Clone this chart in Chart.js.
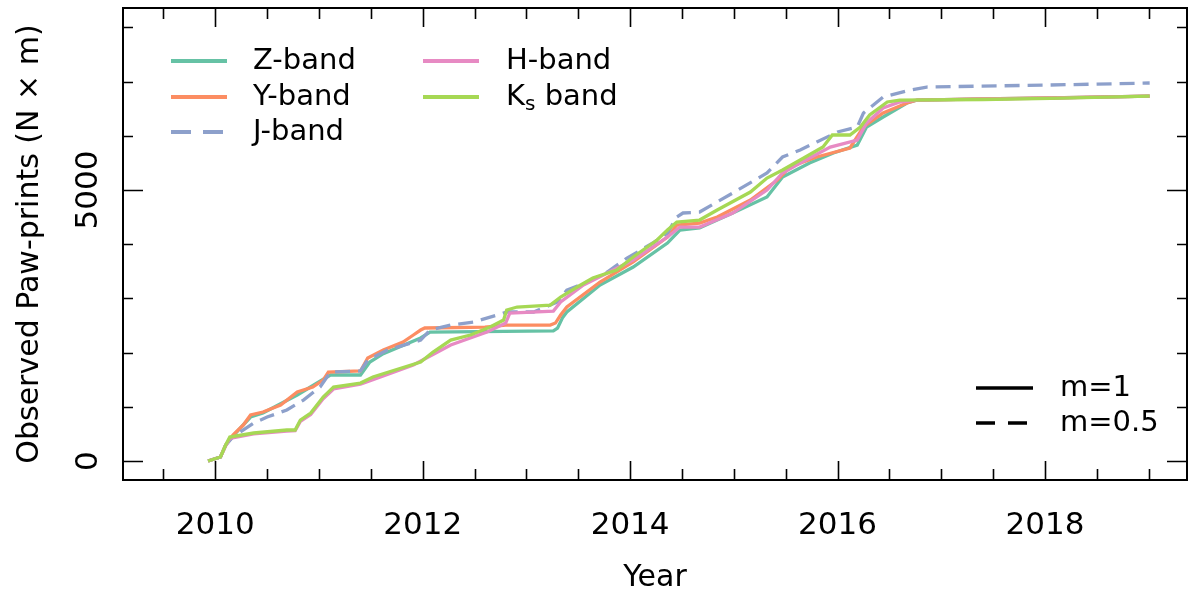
<!DOCTYPE html>
<html>
<head>
<meta charset="utf-8">
<script src="https://cdn.jsdelivr.net/npm/chart.js@4"></script>
<style>
  html, body { margin: 0; padding: 0; background: #fff; }
  #wrap { width: 1200px; height: 596px; }
</style>
</head>
<body>
<div id="wrap"><canvas id="c" width="1200" height="596"></canvas></div>
<script>
// ---- data: [decimal year, cumulative paw-prints] ----
const zBand = [[2009.93,0],[2010.05,74],[2010.10,295],[2010.17,460],[2010.34,812],[2010.46,886],[2010.79,1218],[2011.11,1587],[2011.40,1587],[2011.49,1827],[2011.62,1980],[2011.98,2270],[2012.07,2380],[2013.26,2400],[2013.30,2450],[2013.35,2650],[2013.39,2749],[2013.71,3247],[2014.03,3579],[2014.36,4022],[2014.48,4262],[2014.67,4299],[2014.99,4576],[2015.32,4871],[2015.47,5240],[2015.73,5498],[2015.96,5683],[2016.19,5830],[2016.28,6162],[2016.44,6347],[2016.67,6605],[2016.77,6660],[2017.40,6680],[2018.05,6700],[2019.01,6734]];
const yBand = [[2009.93,0],[2010.05,74],[2010.10,295],[2010.17,480],[2010.27,664],[2010.34,849],[2010.46,904],[2010.63,1033],[2010.79,1273],[2010.94,1365],[2011.04,1494],[2011.09,1642],[2011.40,1661],[2011.47,1900],[2011.62,2048],[2011.81,2196],[2011.91,2325],[2011.98,2417],[2012.02,2454],[2012.60,2472],[2012.80,2509],[2013.23,2509],[2013.28,2546],[2013.33,2694],[2013.39,2841],[2013.71,3303],[2014.03,3672],[2014.36,4133],[2014.45,4354],[2014.67,4391],[2014.84,4502],[2015.16,4815],[2015.42,5184],[2015.54,5424],[2015.80,5609],[2016.12,5775],[2016.25,6162],[2016.44,6421],[2016.67,6605],[2016.77,6660],[2017.40,6680],[2018.05,6700],[2019.01,6734]];
const jBand = [[2009.93,0],[2010.05,74],[2010.10,295],[2010.17,443],[2010.37,701],[2010.50,812],[2010.69,941],[2010.85,1125],[2011.01,1365],[2011.11,1642],[2011.40,1661],[2011.47,1863],[2011.66,2048],[2011.98,2230],[2012.07,2417],[2012.27,2509],[2012.49,2565],[2012.72,2694],[2012.81,2749],[2013.07,2749],[2013.30,2934],[2013.39,3155],[2013.59,3303],[2013.78,3487],[2013.97,3745],[2014.22,4022],[2014.36,4207],[2014.45,4502],[2014.51,4576],[2014.67,4594],[2014.99,4945],[2015.32,5314],[2015.47,5609],[2015.64,5738],[2015.80,5886],[2016.00,6070],[2016.19,6162],[2016.25,6421],[2016.44,6716],[2016.70,6845],[2016.86,6900],[2018.05,6937],[2019.01,6974]];
const hBand = [[2009.93,0],[2010.05,74],[2010.10,280],[2010.14,420],[2010.37,500],[2010.69,550],[2010.77,560],[2010.82,730],[2010.92,860],[2011.04,1150],[2011.14,1330],[2011.40,1420],[2011.52,1500],[2011.91,1771],[2012.27,2140],[2012.62,2380],[2012.80,2546],[2012.84,2731],[2013.26,2767],[2013.33,2934],[2013.55,3247],[2014.03,3708],[2014.36,4133],[2014.48,4317],[2014.67,4317],[2014.99,4576],[2015.32,5000],[2015.47,5314],[2015.64,5498],[2015.93,5793],[2016.19,5922],[2016.28,6236],[2016.44,6513],[2016.60,6624],[2016.77,6660],[2017.40,6675],[2018.05,6695],[2019.01,6734]];
const ksBand = [[2009.93,0],[2010.05,74],[2010.10,295],[2010.14,443],[2010.37,517],[2010.69,572],[2010.77,572],[2010.82,756],[2010.92,886],[2011.04,1181],[2011.14,1365],[2011.40,1439],[2011.52,1550],[2011.98,1827],[2012.10,2011],[2012.27,2232],[2012.46,2325],[2012.65,2472],[2012.78,2601],[2012.81,2786],[2012.91,2841],[2013.23,2878],[2013.33,3026],[2013.49,3210],[2013.64,3376],[2013.87,3524],[2014.03,3764],[2014.26,4077],[2014.36,4262],[2014.45,4410],[2014.67,4446],[2014.84,4631],[2015.16,4963],[2015.32,5221],[2015.47,5369],[2015.64,5553],[2015.86,5793],[2015.95,6015],[2016.12,6015],[2016.22,6162],[2016.31,6384],[2016.48,6624],[2016.60,6660],[2017.40,6670],[2018.05,6690],[2019.01,6734]];

const seriesNames = ['Z-band','Y-band','J-band','H-band','Ks band'];
const seriesColors = ['#66c2a5','#fc8d62','#8da0cb','#e78ac3','#a6d854'];
const xMajorTicks = [2010, 2012, 2014, 2016, 2018];
const yMajorTicks = [0, 5000];
const mLegend = ['m=1', 'm=0.5'];

const FONT = '"DejaVu Sans", "Liberation Sans", sans-serif';
const TICK_SIZE = 31, LEG_SIZE = 29, TITLE_SIZE = 30;
const toPts = arr => arr.map(p => ({x: p[0], y: p[1]}));
const allSeries = [zBand, yBand, jBand, hBand, ksBand];

const datasets = allSeries.map((s, i) => ({
  label: seriesNames[i],
  data: toPts(s),
  borderColor: seriesColors[i],
  backgroundColor: seriesColors[i],
  borderWidth: 3.3,
  borderDash: i === 2 ? [15, 8] : [],
  pointRadius: 0,
  tension: 0,
  fill: false,
  order: 4 - i
}));

const framePlugin = {
  id: 'frame',
  afterDraw(chart) {
    const {ctx, chartArea: a, scales: {x, y}} = chart;
    ctx.save();
    ctx.strokeStyle = '#000';
    ctx.lineWidth = 2;
    ctx.strokeRect(a.left, a.top, a.right - a.left, a.bottom - a.top);
    // inward ticks
    ctx.lineWidth = 1.6;
    ctx.beginPath();
    for (let v = 2009.5; v <= 2019.3; v += 0.5) {
      const px = Math.round(x.getPixelForValue(v)) + 0.5;
      if (px < a.left || px > a.right) continue;
      const major = xMajorTicks.includes(v);
      const L = major ? 19 : 11;
      ctx.moveTo(px, a.bottom); ctx.lineTo(px, a.bottom - L);
      ctx.moveTo(px, a.top); ctx.lineTo(px, a.top + L);
    }
    for (let v = 0; v <= 8000; v += 1000) {
      const py = Math.round(y.getPixelForValue(v)) + 0.5;
      if (py < a.top || py > a.bottom) continue;
      const major = yMajorTicks.includes(v);
      const L = major ? 20 : 10;
      ctx.moveTo(a.left, py); ctx.lineTo(a.left + L, py);
      ctx.moveTo(a.right, py); ctx.lineTo(a.right - L, py);
    }
    ctx.stroke();
    // rotated y tick labels
    ctx.fillStyle = '#000';
    ctx.font = TICK_SIZE + 'px ' + FONT;
    ctx.textAlign = 'center';
    ctx.textBaseline = 'middle';
    yMajorTicks.forEach(v => {
      ctx.save();
      ctx.translate(89, y.getPixelForValue(v));
      ctx.rotate(-Math.PI / 2);
      ctx.fillText(String(v), 0, 0);
      ctx.restore();
    });
    // legend 1
    const rows = [[171, 227, 253, 61], [171, 227, 253, 97], [171, 227, 253, 132], [423, 479, 506, 61], [423, 479, 506, 97]];
    ctx.textAlign = 'left';
    rows.forEach((r, i) => {
      ctx.strokeStyle = seriesColors[i];
      ctx.lineWidth = 4;
      ctx.setLineDash(i === 2 ? [20, 12] : []);
      ctx.beginPath(); ctx.moveTo(r[0], r[3]); ctx.lineTo(r[1], r[3]); ctx.stroke();
      ctx.setLineDash([]);
      ctx.fillStyle = '#000';
      ctx.font = LEG_SIZE + 'px ' + FONT;
      if (i === 4) {
        ctx.fillText('K', r[2], r[3]);
        const w = ctx.measureText('K').width;
        ctx.font = '20px ' + FONT;
        ctx.fillText('s', r[2] + w, r[3] + 8);
        const w2 = ctx.measureText('s').width;
        ctx.font = LEG_SIZE + 'px ' + FONT;
        ctx.fillText(' band', r[2] + w + w2, r[3]);
      } else {
        ctx.fillText(seriesNames[i], r[2], r[3]);
      }
    });
    // legend 2
    [[388, []], [423, [19, 13]]].forEach((r, i) => {
      ctx.strokeStyle = '#000';
      ctx.lineWidth = 3.5;
      ctx.setLineDash(r[1]);
      ctx.beginPath(); ctx.moveTo(976, r[0]); ctx.lineTo(1033, r[0]); ctx.stroke();
      ctx.setLineDash([]);
      ctx.fillStyle = '#000';
      ctx.font = LEG_SIZE + 'px ' + FONT;
      ctx.fillText(mLegend[i], 1060, r[0]);
    });
    ctx.restore();
  }
};

new Chart(document.getElementById('c'), {
  type: 'line',
  data: { datasets },
  options: {
    responsive: false,
    animation: false,
    devicePixelRatio: 1,
    layout: { padding: { left: 0, right: 13, top: 8, bottom: 0 } },
    plugins: { legend: { display: false }, tooltip: { enabled: false } },
    scales: {
      x: {
        type: 'linear',
        min: 2009.11,
        max: 2019.37,
        grid: { display: false },
        border: { display: false },
        afterBuildTicks: s => { s.ticks = xMajorTicks.map(v => ({ value: v })); },
        afterFit: s => { s.height = 116; },
        ticks: {
          color: '#000',
          font: { family: FONT, size: TICK_SIZE },
          padding: 19,
          maxRotation: 0,
          callback: v => String(v)
        },
        title: {
          display: true,
          text: 'Year',
          color: '#000',
          font: { family: FONT, size: TITLE_SIZE },
          padding: { top: 0, bottom: 0 }
        }
      },
      y: {
        type: 'linear',
        min: -350,
        max: 8358,
        grid: { display: false },
        border: { display: false },
        afterFit: s => { s.width = 123; },
        ticks: { display: false },
        title: {
          display: true,
          text: 'Observed Paw-prints (N × m)',
          color: '#000',
          font: { family: FONT, size: TITLE_SIZE },
          padding: { top: 12, bottom: 0 }
        }
      }
    }
  },
  plugins: [framePlugin]
});
</script>
</body>
</html>
